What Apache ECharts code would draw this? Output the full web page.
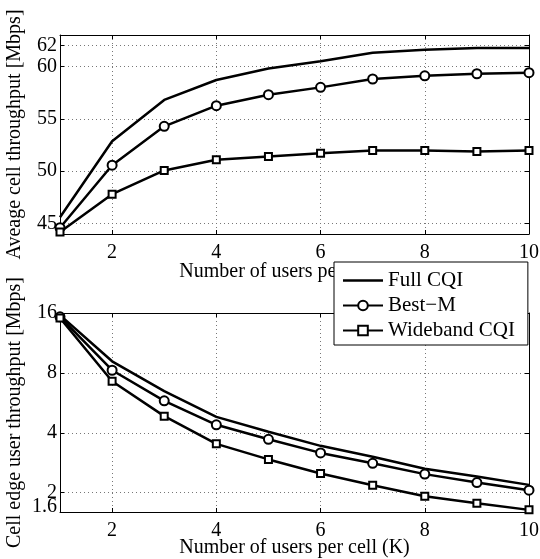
<!DOCTYPE html>
<html><head><meta charset="utf-8">
<script src="https://cdn.jsdelivr.net/npm/echarts@6/dist/echarts.min.js"></script>
<style>html,body{margin:0;padding:0;background:#fff}#c{width:540px;height:559px}</style>
</head><body><div id="c"></div>
<script>
var K = [1,2,3,4,5,6,7,8,9,10];
var avgFull = [45.6,52.85,56.8,58.7,59.8,60.5,61.3,61.6,61.75,61.75];
var avgBestM = [44.6,50.57,54.28,56.25,57.3,58.0,58.8,59.1,59.3,59.4];
var avgWide = [44.2,47.8,50.07,51.08,51.4,51.7,51.97,51.97,51.87,51.97];
var edgeFull = [15.6,9.15,6.48,4.81,4.05,3.44,3.03,2.64,2.41,2.19];
var edgeBestM = [15.3,8.25,5.79,4.39,3.71,3.17,2.81,2.48,2.25,2.06];
var edgeWide = [15.1,7.27,4.85,3.52,2.94,2.50,2.18,1.92,1.77,1.64];
var xTicks = [2,4,6,8,10];
var topTicks = [45,50,55,60,62];
var botLabels = [2,4,8,16];
var botMinLabel = [1.6];
var botGrid = [2,4,8];
var names = ['Full CQI','Best\u2212M','Wideband CQI'];

function pts(v){return K.map(function(k,i){return [k,v[i]];});}
var FONT = 'Liberation Serif';
var fs = 20;
var gridLine = {show:true,lineStyle:{color:'#777',type:[1,3],width:1}};
function xMain(gi){return {type:'value',gridIndex:gi,min:1,max:10,position:'bottom',
  name:'Number of users per cell (K)',nameLocation:'middle',nameGap:gi===0?28:26,nameMoveOverlap:false,
  nameTextStyle:{fontFamily:FONT,fontSize:fs,color:'#000'},
  axisLine:{lineStyle:{color:'#000',width:1}},
  axisTick:{inside:true,length:4,customValues:xTicks,lineStyle:{color:'#000'}},
  axisLabel:{customValues:xTicks,margin:9,fontFamily:FONT,fontSize:fs,color:'#000',showMinLabel:true,showMaxLabel:true,hideOverlap:false},
  splitLine:gridLine};}
function xTop(gi){return {type:'value',gridIndex:gi,min:1,max:10,position:'top',
  axisLine:{lineStyle:{color:'#000',width:1}},
  axisTick:{inside:true,length:4,customValues:xTicks,lineStyle:{color:'#000'}},
  axisLabel:{show:false},splitLine:{show:false}};}
var series = [];
var sym = ['none','circle','rect'];
var symSize = [0,9,7];
[[avgFull,avgBestM,avgWide],[edgeFull,edgeBestM,edgeWide]].forEach(function(grp,gi){
  grp.forEach(function(v,si){
    series.push({type:'line',name:names[si],xAxisIndex:gi*2,yAxisIndex:gi*2,data:pts(v),
      symbol:sym[si],symbolSize:symSize[si],showSymbol:si>0,
      lineStyle:{color:'#000',width:2.5},
      itemStyle:si===0?{color:'#000',borderWidth:0}:{color:'#fff',borderColor:'#000',borderWidth:2},
      animation:false,z:3});
  });
});
var option = {
  animation:false,
  backgroundColor:'#fff',
  grid:[{left:60,top:35,width:469,height:199,outerBoundsMode:'none',containLabel:false},
        {left:60,top:313,width:469,height:199,outerBoundsMode:'none',containLabel:false}],
  xAxis:[xMain(0),xTop(0),xMain(1),xTop(1)],
  yAxis:[
    {type:'value',gridIndex:0,min:44,max:63,position:'left',
     name:'Aveage cell throughput [Mbps]',nameLocation:'middle',nameGap:35,nameMoveOverlap:false,
     nameTextStyle:{fontFamily:FONT,fontSize:fs,color:'#000'},
     axisLine:{show:true,lineStyle:{color:'#000',width:1}},
     axisTick:{show:true,inside:true,length:4,customValues:topTicks,lineStyle:{color:'#000'}},
     axisLabel:{customValues:topTicks,margin:3,fontFamily:FONT,fontSize:fs,lineHeight:14,color:'#000',showMinLabel:true,showMaxLabel:true,hideOverlap:false},
     splitLine:gridLine},
    {type:'value',gridIndex:0,min:44,max:63,position:'right',
     axisLine:{show:true,lineStyle:{color:'#000',width:1}},
     axisTick:{show:true,inside:true,length:4,customValues:topTicks,lineStyle:{color:'#000'}},
     axisLabel:{show:false},splitLine:{show:false}},
    {type:'log',logBase:2,gridIndex:1,min:1.6,max:16,position:'left',
     name:'Cell edge user throughput [Mbps]',nameLocation:'middle',nameGap:35,nameMoveOverlap:false,
     nameTextStyle:{fontFamily:FONT,fontSize:fs,color:'#000'},
     axisLine:{show:true,lineStyle:{color:'#000',width:1}},
     axisTick:{show:true,inside:true,length:4,customValues:botGrid,lineStyle:{color:'#000'}},
     axisLabel:{customValues:botLabels,margin:3,fontFamily:FONT,fontSize:fs,color:'#000',
       showMinLabel:true,showMaxLabel:true,hideOverlap:false},
     splitLine:gridLine},
    {type:'log',logBase:2,gridIndex:1,min:1.6,max:16,position:'right',
     axisLine:{show:true,lineStyle:{color:'#000',width:1}},
     axisTick:{show:true,inside:true,length:4,customValues:botGrid,lineStyle:{color:'#000'}},
     axisLabel:{show:false},splitLine:{show:false}},
    {type:'log',logBase:2,gridIndex:1,min:1.6,max:16,position:'left',offset:0,
     axisLine:{show:false},axisTick:{show:false},splitLine:{show:false},
     axisLabel:{customValues:botMinLabel,margin:3,showMinLabel:true,showMaxLabel:true,
       formatter:function(v){return '{a|'+(Math.round(v*10)/10)+'}';},
       rich:{a:{fontFamily:FONT,fontSize:fs,lineHeight:14,color:'#000',padding:[0,0,10,0]}}}}
  ],
  legend:{data:[
      {name:names[0],icon:'path://M0,0L0,0M0,4.75L40,4.75L40,7.25L0,7.25ZM40,12L40,12',itemStyle:{color:'#000',borderWidth:0}},
      {name:names[1]},{name:names[2]}],
    orient:'vertical',left:334,top:262,
    backgroundColor:'#fff',borderColor:'#000',borderWidth:1,
    padding:[8,13,4,8],itemWidth:40,itemHeight:12,itemGap:4,
    textStyle:{fontFamily:FONT,fontSize:21,color:'#000'}},
  series:series
};
var chart = echarts.init(document.getElementById('c'),null,{renderer:'canvas'});
chart.setOption(option);
</script></body></html>
